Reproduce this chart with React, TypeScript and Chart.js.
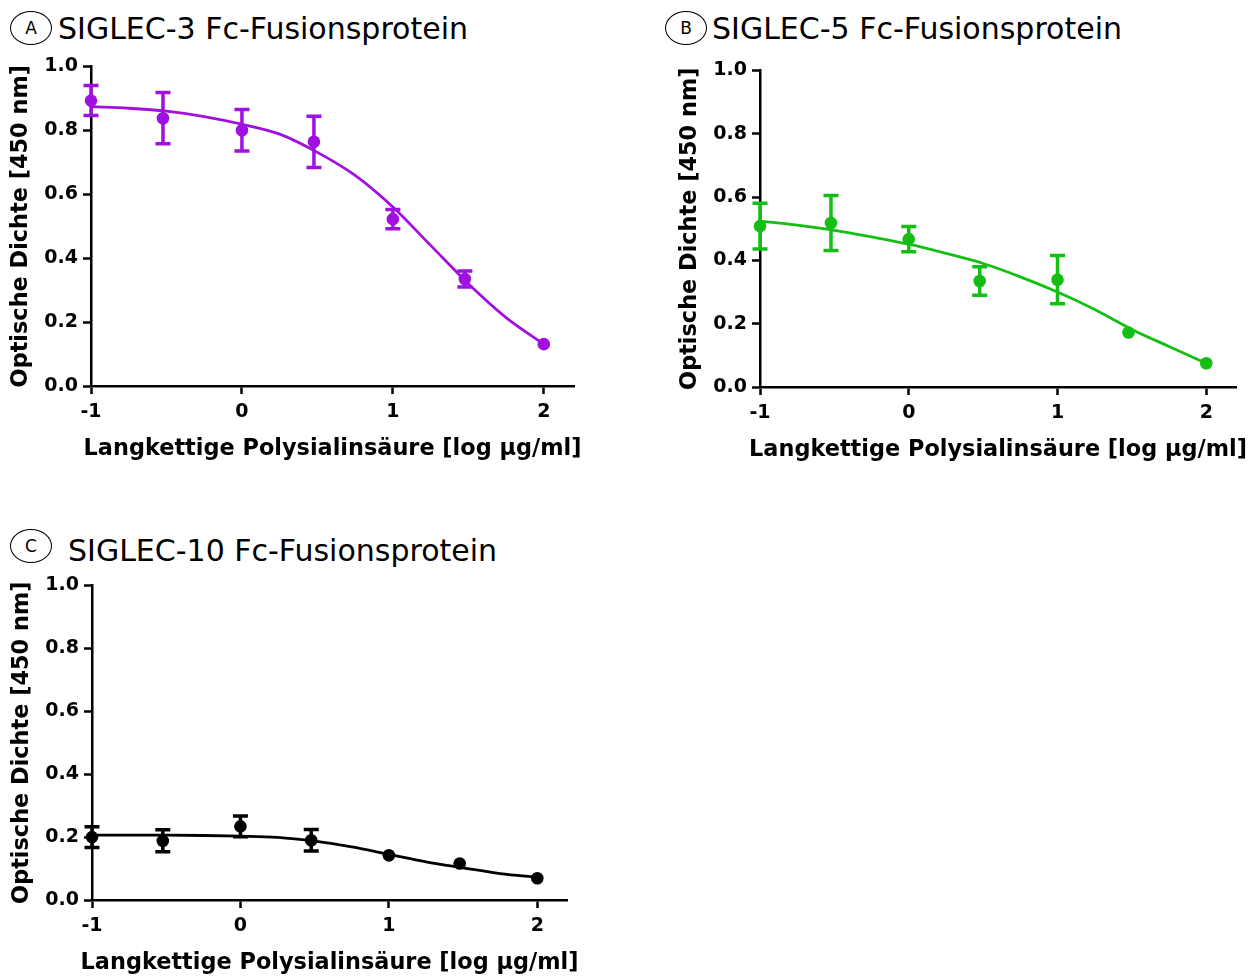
import React, { useEffect, useRef } from "react";
import { Chart, registerables } from "chart.js";

Chart.register(...registerables);
Chart.defaults.font.family = "'DejaVu Sans', sans-serif";
Chart.defaults.color = "#000";

// log concentrations of the measured points
const xLog = [-1, -0.523, 0, 0.477, 1, 1.477, 2];
const curveX = [-1, -0.75, -0.5, -0.25, 0, 0.25, 0.5, 0.75, 1, 1.25, 1.5, 1.75, 2];
const xTicks = [-1, 0, 1, 2];
const yTicks = [0, 0.2, 0.4, 0.6, 0.8, 1.0];

const xTitle = "Langkettige Polysialinsäure [log µg/ml]";
const yTitle = "Optische Dichte [450 nm]";

// SIGLEC-3
const s3Mean = [0.893, 0.838, 0.8, 0.764, 0.522, 0.335, 0.131];
const s3Err = [0.047, 0.08, 0.065, 0.08, 0.03, 0.025, 0];
const s3Curve = [0.874, 0.869, 0.86, 0.843, 0.819, 0.788, 0.731, 0.659, 0.56, 0.44, 0.32, 0.214, 0.131];

// SIGLEC-5
const s5Mean = [0.508, 0.518, 0.467, 0.335, 0.339, 0.172, 0.075];
const s5Err = [0.072, 0.087, 0.04, 0.045, 0.076, 0, 0];
const s5Curve = [0.524, 0.511, 0.495, 0.474, 0.451, 0.422, 0.39, 0.348, 0.3, 0.245, 0.182, 0.128, 0.075];

// SIGLEC-10
const s10Mean = [0.2, 0.188, 0.234, 0.19, 0.142, 0.116, 0.069];
const s10Err = [0.033, 0.035, 0.033, 0.034, 0, 0, 0];
const s10Curve = [0.206, 0.206, 0.206, 0.205, 0.203, 0.199, 0.187, 0.169, 0.145, 0.121, 0.102, 0.084, 0.072];

const errorBarPlugin = {
  id: "errorBars",
  afterDatasetsDraw(chart: any) {
    const ctx = chart.ctx;
    const xs = chart.scales.x;
    const ys = chart.scales.y;
    chart.data.datasets.forEach((ds: any) => {
      const errs = ds.errorBars;
      if (!errs) return;
      ctx.save();
      ctx.strokeStyle = ds.backgroundColor;
      ctx.lineWidth = 3.5;
      ds.data.forEach((p: any, i: number) => {
        const e = errs[i];
        if (!e) return;
        const px = xs.getPixelForValue(p.x);
        const top = ys.getPixelForValue(p.y + e);
        const bot = ys.getPixelForValue(p.y - e);
        ctx.beginPath();
        ctx.moveTo(px, top);
        ctx.lineTo(px, bot);
        ctx.moveTo(px - 7.5, top);
        ctx.lineTo(px + 7.5, top);
        ctx.moveTo(px - 7.5, bot);
        ctx.lineTo(px + 7.5, bot);
        ctx.stroke();
      });
      ctx.restore();
    });
  },
};

type PanelProps = {
  color: string;
  mean: number[];
  err: number[];
  curve: number[];
  L: number;
  T: number;
  R: number;
  B: number;
  padR: number;
};

const Y_AXIS_W = 91;
const PAD_T = 14;
const X_AXIS_H = 89;

function Panel({ color, mean, err, curve, L, T, R, B, padR }: PanelProps) {
  const ref = useRef<HTMLCanvasElement | null>(null);
  const width = R - L + Y_AXIS_W + padR;
  const height = B - T + PAD_T + X_AXIS_H;

  useEffect(() => {
    if (!ref.current) return;
    const chart = new Chart(ref.current, {
      type: "scatter",
      data: {
        datasets: [
          {
            type: "line",
            data: curveX.map((x, i) => ({ x, y: curve[i] })),
            borderColor: color,
            borderWidth: 2.8,
            pointRadius: 0,
            cubicInterpolationMode: "monotone",
            fill: false,
            clip: false,
          } as any,
          {
            type: "scatter",
            data: xLog.map((x, i) => ({ x, y: mean[i] })),
            backgroundColor: color,
            borderColor: color,
            borderWidth: 0,
            pointRadius: 6.3,
            clip: false,
            errorBars: err,
          } as any,
        ],
      },
      options: {
        animation: false,
        responsive: false,
        events: [],
        layout: { padding: { top: PAD_T, right: padR, left: 0, bottom: 0 } },
        plugins: { legend: { display: false }, tooltip: { enabled: false } },
        scales: {
          x: {
            type: "linear",
            min: -1,
            max: 2.2,
            afterBuildTicks: (s: any) => {
              s.ticks = xTicks.map((v) => ({ value: v }));
            },
            afterFit: (s: any) => {
              s.height = X_AXIS_H;
            },
            ticks: {
              font: { size: 19, weight: "bold" },
              color: "#000",
              padding: 7,
              callback: (v: any) => String(v),
            },
            grid: {
              drawOnChartArea: false,
              drawTicks: true,
              tickLength: 8,
              tickWidth: 2.5,
              tickColor: "#000",
            },
            border: { display: true, color: "#000", width: 2.5 },
            title: { display: false },
          },
          y: {
            type: "linear",
            min: 0,
            max: 1,
            afterBuildTicks: (s: any) => {
              s.ticks = yTicks.map((v) => ({ value: v }));
            },
            afterFit: (s: any) => {
              s.width = Y_AXIS_W;
            },
            ticks: {
              font: { size: 19, weight: "bold" },
              color: "#000",
              padding: 5,
              callback: (v: any) => Number(v).toFixed(1),
            },
            grid: {
              drawOnChartArea: false,
              drawTicks: true,
              tickLength: 8,
              tickWidth: 2.5,
              tickColor: "#000",
            },
            border: { display: true, color: "#000", width: 2.5 },
            title: {
              display: true,
              text: yTitle,
              font: { size: 22.4, weight: "bold" },
              color: "#000",
              padding: { top: 8, bottom: 0 },
            },
          },
        },
      } as any,
      plugins: [errorBarPlugin],
    });
    return () => chart.destroy();
  }, []);

  return (
    <>
      <canvas
        ref={ref}
        width={width}
        height={height}
        style={{
          position: "absolute",
          left: L - Y_AXIS_W,
          top: T - PAD_T,
          width,
          height,
        }}
      />
      <div
        style={{
          position: "absolute",
          left: (L + R) / 2 - 300,
          width: 600,
          top: B + 50,
          textAlign: "center",
          fontFamily: "'DejaVu Sans', sans-serif",
          fontWeight: "bold",
          fontSize: 22.4,
          lineHeight: "22.4px",
          whiteSpace: "nowrap",
          color: "#000",
        }}
      >
        {xTitle}
      </div>
    </>
  );
}

function Heading({ letter, text, cx, cy, textLeft, textTop }: { letter: string; text: string; cx: number; cy: number; textLeft: number; textTop: number }) {
  return (
    <>
      <div
        style={{
          position: "absolute",
          left: cx - 21,
          top: cy - 17,
          width: 42,
          height: 34,
          boxSizing: "border-box",
          border: "1.5px solid #000",
          borderRadius: "50%",
          display: "flex",
          alignItems: "center",
          justifyContent: "center",
          fontFamily: "'DejaVu Sans', sans-serif",
          fontSize: 17,
          color: "#000",
        }}
      >
        {letter}
      </div>
      <div
        style={{
          position: "absolute",
          left: textLeft,
          top: textTop,
          fontFamily: "'DejaVu Sans', sans-serif",
          fontSize: 30,
          lineHeight: "30px",
          whiteSpace: "nowrap",
          color: "#000",
        }}
      >
        {text}
      </div>
    </>
  );
}

export default function App() {
  return (
    <div
      style={{
        position: "absolute",
        left: 0,
        top: 0,
        width: 1251,
        height: 976,
        overflow: "hidden",
        background: "#fff",
      }}
    >
      <Heading letter="A" text="SIGLEC-3 Fc-Fusionsprotein" cx={31} cy={28} textLeft={58} textTop={14} />
      <Heading letter="B" text="SIGLEC-5 Fc-Fusionsprotein" cx={686} cy={28} textLeft={712} textTop={14} />
      <Heading letter="C" text="SIGLEC-10 Fc-Fusionsprotein" cx={31} cy={546} textLeft={68} textTop={536} />
      <Panel color="#A010E0" mean={s3Mean} err={s3Err} curve={s3Curve} L={91} T={64} R={574} B={386} padR={20} />
      <Panel color="#14BE14" mean={s5Mean} err={s5Err} curve={s5Curve} L={760} T={68} R={1236} B={387} padR={12} />
      <Panel color="#000000" mean={s10Mean} err={s10Err} curve={s10Curve} L={92} T={583} R={567} B={900} padR={20} />
    </div>
  );
}
